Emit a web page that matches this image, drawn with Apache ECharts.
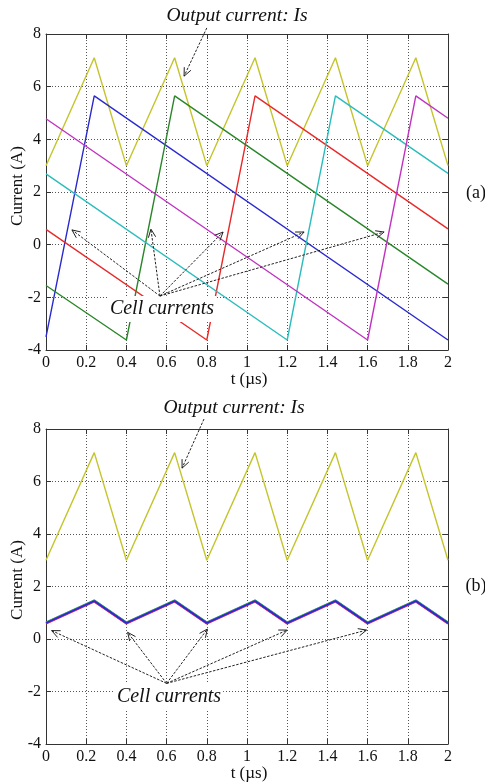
<!DOCTYPE html>
<html>
<head>
<meta charset="utf-8">
<script src="https://cdn.jsdelivr.net/npm/echarts@6/dist/echarts.min.js"></script>
<style>
html,body{margin:0;padding:0;background:#fff;}
#main{width:485px;height:782px;}
</style>
</head>
<body>
<div id="main"></div>
<script>
// ---- tick labels ----
const tTickLabels = ['0','0.2','0.4','0.6','0.8','1','1.2','1.4','1.6','1.8','2'];
const yTickLabels = ['-4','-2','0','2','4','6','8'];

// ---- output current Is (both panels) ----
const isT = [0, 0.24, 0.4, 0.64, 0.8, 1.04, 1.2, 1.44, 1.6, 1.84, 2];
const isA = [3, 7.1, 3, 7.1, 3, 7.1, 3, 7.1, 3, 7.1, 3];
const isB = [3, 7.1, 3, 7.1, 3, 7.1, 3, 7.1, 3, 7.1, 3];

// ---- panel (a): cell currents ----
const cell1T_a = [0, 0.24, 2];
const cell1_a  = [-3.5, 5.65, -3.62];
const cell2T_a = [0, 0.4, 0.64, 2];
const cell2_a  = [-1.55, -3.62, 5.65, -1.5];
const cell3T_a = [0, 0.8, 1.04, 2];
const cell3_a  = [0.58, -3.62, 5.65, 0.6];
const cell4T_a = [0, 1.2, 1.44, 2];
const cell4_a  = [2.69, -3.62, 5.65, 2.71];
const cell5T_a = [0, 1.6, 1.84, 2];
const cell5_a  = [4.78, -3.62, 5.65, 4.8];

// ---- panel (b): balanced cell currents ----
const cellT_b = [0, 0.24, 0.4, 0.64, 0.8, 1.04, 1.2, 1.44, 1.6, 1.84, 2];
const cell1_b = [0.61, 1.45, 0.61, 1.45, 0.61, 1.45, 0.61, 1.45, 0.61, 1.45, 0.61];
const cell2_b = [0.64, 1.48, 0.64, 1.48, 0.64, 1.48, 0.64, 1.48, 0.64, 1.48, 0.64];
const cell3_b = [0.58, 1.42, 0.58, 1.42, 0.58, 1.42, 0.58, 1.42, 0.58, 1.42, 0.58];
const cell4_b = [0.62, 1.46, 0.62, 1.46, 0.62, 1.46, 0.62, 1.46, 0.62, 1.46, 0.62];
const cell5_b = [0.6, 1.44, 0.6, 1.44, 0.6, 1.44, 0.6, 1.44, 0.6, 1.44, 0.6];

// ---- annotation anchor points (data coordinates) ----
const outArrowA = [[0.80, 8.23], [0.687, 6.40]];
const cellOriginA = [0.567, -1.95];
const cellTargetsA = [[0.129, 0.56], [0.522, 0.59], [0.881, 0.48], [1.284, 0.48], [1.682, 0.48]];
const outArrowB = [[0.786, 8.38], [0.677, 6.51]];
const cellOriginB = [0.60, -1.69];
const cellTargetsB = [[0.028, 0.32], [0.406, 0.255], [0.803, 0.38], [1.20, 0.34], [1.595, 0.34]];

const colors = {
  yellow: '#c4c42c', blue: '#2a2ad0', green: '#2a862a', red: '#e82a2a', cyan: '#2cbcbc', magenta: '#c033c0'
};
const serif = '"Liberation Serif", "Times New Roman", serif';

function zip(t, v) { return t.map((x, i) => [x, v[i]]); }

function xAxes(grid) {
  return [{
    type: 'value', gridIndex: grid, min: 0, max: 2, interval: 0.2, position: 'bottom',
    axisLine: { show: true, onZero: false, lineStyle: { color: '#333', width: 1 } },
    axisTick: { show: true, inside: true, length: 5, lineStyle: { color: '#333' } },
    axisLabel: { margin: 5, fontSize: 16, fontFamily: serif, color: '#111',
      formatter: v => tTickLabels[Math.round(v / 0.2)] },
    splitLine: { show: true, lineStyle: { color: '#555', type: [1, 2], width: 1 } }
  }, {
    type: 'value', gridIndex: grid, min: 0, max: 2, interval: 0.2, position: 'top',
    axisLine: { show: true, onZero: false, lineStyle: { color: '#333', width: 1 } },
    axisTick: { show: true, inside: true, length: 5, lineStyle: { color: '#333' } },
    axisLabel: { show: false }, splitLine: { show: false }
  }];
}
function yAxes(grid) {
  return [{
    type: 'value', gridIndex: grid, min: -4, max: 8, interval: 2, position: 'left',
    axisLine: { show: true, onZero: false, lineStyle: { color: '#333', width: 1 } },
    axisTick: { show: true, inside: true, length: 5, lineStyle: { color: '#333' } },
    axisLabel: { margin: 5, fontSize: 16, fontFamily: serif, color: '#111',
      formatter: v => yTickLabels[Math.round((v + 4) / 2)] },
    splitLine: { show: true, lineStyle: { color: '#555', type: [1, 2], width: 1 } }
  }, {
    type: 'value', gridIndex: grid, min: -4, max: 8, interval: 2, position: 'right',
    axisLine: { show: true, onZero: false, lineStyle: { color: '#333', width: 1 } },
    axisTick: { show: true, inside: true, length: 5, lineStyle: { color: '#333' } },
    axisLabel: { show: false }, splitLine: { show: false }
  }];
}
function line(name, data, color, xi, yi, w) {
  return { name, type: 'line', xAxisIndex: xi, yAxisIndex: yi, data, symbol: 'none',
    animation: false, lineStyle: { color, width: w || 1.4 }, z: 3 };
}

const chart = echarts.init(document.getElementById('main'), null, { renderer: 'canvas' });
const option = {
  backgroundColor: '#fff',
  animation: false,
  grid: [
    { left: 46, top: 34, width: 402, height: 316, show: false },
    { left: 46, top: 429, width: 402, height: 315, show: false }
  ],
  xAxis: [...xAxes(0), ...xAxes(1)],
  yAxis: [...yAxes(0), ...yAxes(1)],
  series: [
    line('Is (a)', zip(isT, isA), colors.yellow, 0, 0),
    line('Cell 1 (a)', zip(cell1T_a, cell1_a), colors.blue, 0, 0),
    line('Cell 2 (a)', zip(cell2T_a, cell2_a), colors.green, 0, 0),
    line('Cell 3 (a)', zip(cell3T_a, cell3_a), colors.red, 0, 0),
    line('Cell 4 (a)', zip(cell4T_a, cell4_a), colors.cyan, 0, 0),
    line('Cell 5 (a)', zip(cell5T_a, cell5_a), colors.magenta, 0, 0),
    line('Is (b)', zip(isT, isB), colors.yellow, 2, 2),
    line('Cell 2 (b)', zip(cellT_b, cell2_b), colors.green, 2, 2, 1.7),
    line('Cell 3 (b)', zip(cellT_b, cell3_b), colors.red, 2, 2, 1.7),
    line('Cell 4 (b)', zip(cellT_b, cell4_b), colors.cyan, 2, 2, 1.7),
    line('Cell 5 (b)', zip(cellT_b, cell5_b), colors.magenta, 2, 2, 1.7),
    line('Cell 1 (b)', zip(cellT_b, cell1_b), colors.blue, 2, 2, 1.7)
  ]
};
chart.setOption(option);

// ---- annotations ----
function px(seriesIndex, p) { return chart.convertToPixel({ seriesIndex }, p); }
function arrowEls(p0, p1) {
  const dx = p1[0] - p0[0], dy = p1[1] - p0[1];
  const ang = Math.atan2(dy, dx);
  const L = 9, a = 0.42;
  const h1 = [p1[0] - L * Math.cos(ang - a), p1[1] - L * Math.sin(ang - a)];
  const h2 = [p1[0] - L * Math.cos(ang + a), p1[1] - L * Math.sin(ang + a)];
  return [
    { type: 'line', z: 120, shape: { x1: p0[0], y1: p0[1], x2: p1[0], y2: p1[1] },
      style: { stroke: '#222', lineWidth: 1, lineDash: [2.5, 1.5] } },
    { type: 'polyline', z: 120, shape: { points: [h1, p1, h2] },
      style: { stroke: '#222', lineWidth: 1, fill: null } }
  ];
}
const els = [];
// panel (a)
const oa0 = px(0, outArrowA[0]), oa1 = px(0, outArrowA[1]);
els.push(...arrowEls(oa0, oa1));
const ca = px(0, cellOriginA);
cellTargetsA.forEach(t => els.push(...arrowEls(ca, px(0, t))));
// panel (b)
const ob0 = px(6, outArrowB[0]), ob1 = px(6, outArrowB[1]);
els.push(...arrowEls(ob0, ob1));
const cb = px(6, cellOriginB);
cellTargetsB.forEach(t => els.push(...arrowEls(cb, px(6, t))));

function label(text, x, y, size, italic, extra) {
  return Object.assign({ type: 'text', z: 110, x, y,
    style: { text, font: (italic ? 'italic ' : '') + size + 'px ' + serif, fill: '#111',
      align: 'center', verticalAlign: 'middle' } }, extra || {});
}
function boxLabel(text, x, y) {
  return { type: 'text', z: 110, x, y,
    style: { text, font: 'italic 20px ' + serif, fill: '#111', align: 'center', verticalAlign: 'middle',
      backgroundColor: '#fff', padding: [3, 2, 3, 2] } };
}
els.push(label('Output current: Is', 237, 16, 19.5, true));
els.push(label('Output current: Is', 234, 408, 19.5, true));
els.push(boxLabel('Cell currents', 162, 309));
els.push(boxLabel('Cell currents', 169, 697));
els.push(label('t (µs)', 249, 380, 17, false));
els.push(label('t (µs)', 249, 774, 17, false));
els.push(label('Current (A)', 18, 186, 17, false, { rotation: Math.PI / 2 }));
els.push(label('Current (A)', 18, 580, 17, false, { rotation: Math.PI / 2 }));
els.push(label('(a)', 476, 193, 18, false));
els.push(label('(b)', 476, 586, 18, false));

chart.setOption({ graphic: { elements: els } });
</script>
</body>
</html>
